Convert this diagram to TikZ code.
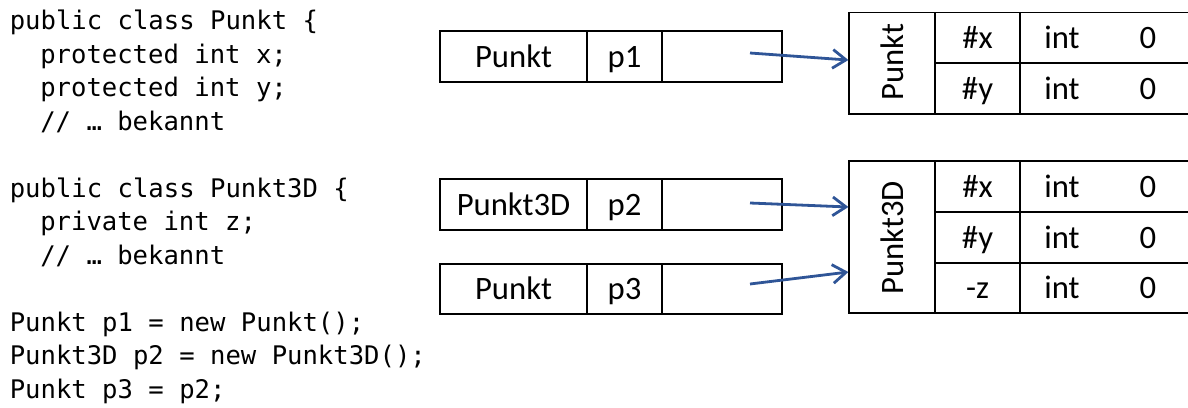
\documentclass[tikz,border=0pt]{standalone}
\usepackage{fontspec}
\setmainfont{Carlito}
\newfontfamily\codefont{DejaVu Sans Mono}
\usetikzlibrary{arrows.meta,fit}
\definecolor{arrowblue}{RGB}{47,85,151}
\tikzset{
  code/.style={anchor=base west,inner sep=0pt,font=\codefont\fontsize{19.2pt}{22pt}\selectfont},
  cell/.style={draw=black,line width=0.9pt,inner sep=0pt,fit={#1}},
  ctext/.style={anchor=base,inner sep=0pt,font=\fontsize{24.5pt}{28pt}\selectfont},
  vtext/.style={anchor=base,inner sep=0pt,rotate=90,font=\fontsize{24.5pt}{28pt}\selectfont},
  ptr/.style={draw=arrowblue,line width=2.1pt,-{Straight Barb[length=10pt,width=14pt]}}
}
\begin{document}
\begin{tikzpicture}[x=0.75pt,y=-0.75pt]
\useasboundingbox (0,0) rectangle (1188,407);
% code
\node[code] (c1) at (9.5,29.5) {public class Punkt \{};
\node[code] (c2) at (40,63) {protected int x;};
\node[code] (c3) at (40,96.5) {protected int y;};
\node[code] (c4) at (40,130) {// … bekannt};
\node[code] (c6) at (9.5,197) {public class Punkt3D \{};
\node[code] (c7) at (40,230.5) {private int z;};
\node[code] (c8) at (40,264) {// … bekannt};
\node[code] (c10) at (9.5,331) {Punkt p1 = new Punkt();};
\node[code] (c11) at (9.5,364.5) {Punkt3D p2 = new Punkt3D();};
\node[code] (c12) at (9.5,398) {Punkt p3 = p2;};
% reference boxes
\foreach \n/\t/\b/\ty/\nm in {1/31/82/Punkt/p1, 2/179/230/Punkt3D/p2, 3/264/314/Punkt/p3}{
  \node[cell={(440,\t) (587,\b)}] (r\n t) {};
  \node[cell={(587,\t) (662,\b)}] (r\n n) {};
  \node[cell={(662,\t) (782,\b)}] (r\n v) {};
  \node[ctext] (r\n tl) at ([yshift=-7.9pt]r\n t.center) {\ty};
  \node[ctext] (r\n nl) at ([yshift=-7.9pt]r\n n.center) {\nm};
}
% object 1
\node[cell={(849,12.5) (1200,114)}] (o1) {};
\node[cell={(849,12.5) (935,114)}] (o1h) {};
\node[vtext] (o1l) at (903,62) {Punkt};
\foreach \i/\t/\b/\f in {1/12.5/63/\#x, 2/63/114/\#y}{
  \node[cell={(935,\t) (1020,\b)}] (o1a\i) {};
  \node[cell={(1020,\t) (1200,\b)}] (o1b\i) {};
  \node[ctext] at ([yshift=-8.25pt]o1a\i.center) {\f};
  \node[ctext] at ([yshift=-8.25pt]o1b\i.center -| 1062,0) {int};
  \node[ctext] at ([yshift=-8.25pt]o1b\i.center -| 1148,0) {0};
}
% object 2
\node[cell={(849,161) (1200,313)}] (o2) {};
\node[cell={(849,161) (935,313)}] (o2h) {};
\node[vtext] (o2l) at (903,238) {Punkt3D};
\foreach \i/\t/\b/\f in {1/161/212/\#x, 2/212/263/\#y, 3/263/313/-z}{
  \node[cell={(935,\t) (1020,\b)}] (o2a\i) {};
  \node[cell={(1020,\t) (1200,\b)}] (o2b\i) {};
  \node[ctext] at ([yshift=-7.9pt]o2a\i.center) {\f};
  \node[ctext] at ([yshift=-7.9pt]o2b\i.center -| 1062,0) {int};
  \node[ctext] at ([yshift=-7.9pt]o2b\i.center -| 1148,0) {0};
}
% pointers
\coordinate (s1) at (750,53);
\coordinate (s2) at (750,203);
\coordinate (s3) at (750,284);
\draw[ptr] (s1) -- ([yshift=2.4pt]o1.west);
\draw[ptr] (s2) -- ([yshift=22.5pt]o2.west);
\draw[ptr] (s3) -- ([yshift=-26.25pt]o2.west);
\end{tikzpicture}
\end{document}
